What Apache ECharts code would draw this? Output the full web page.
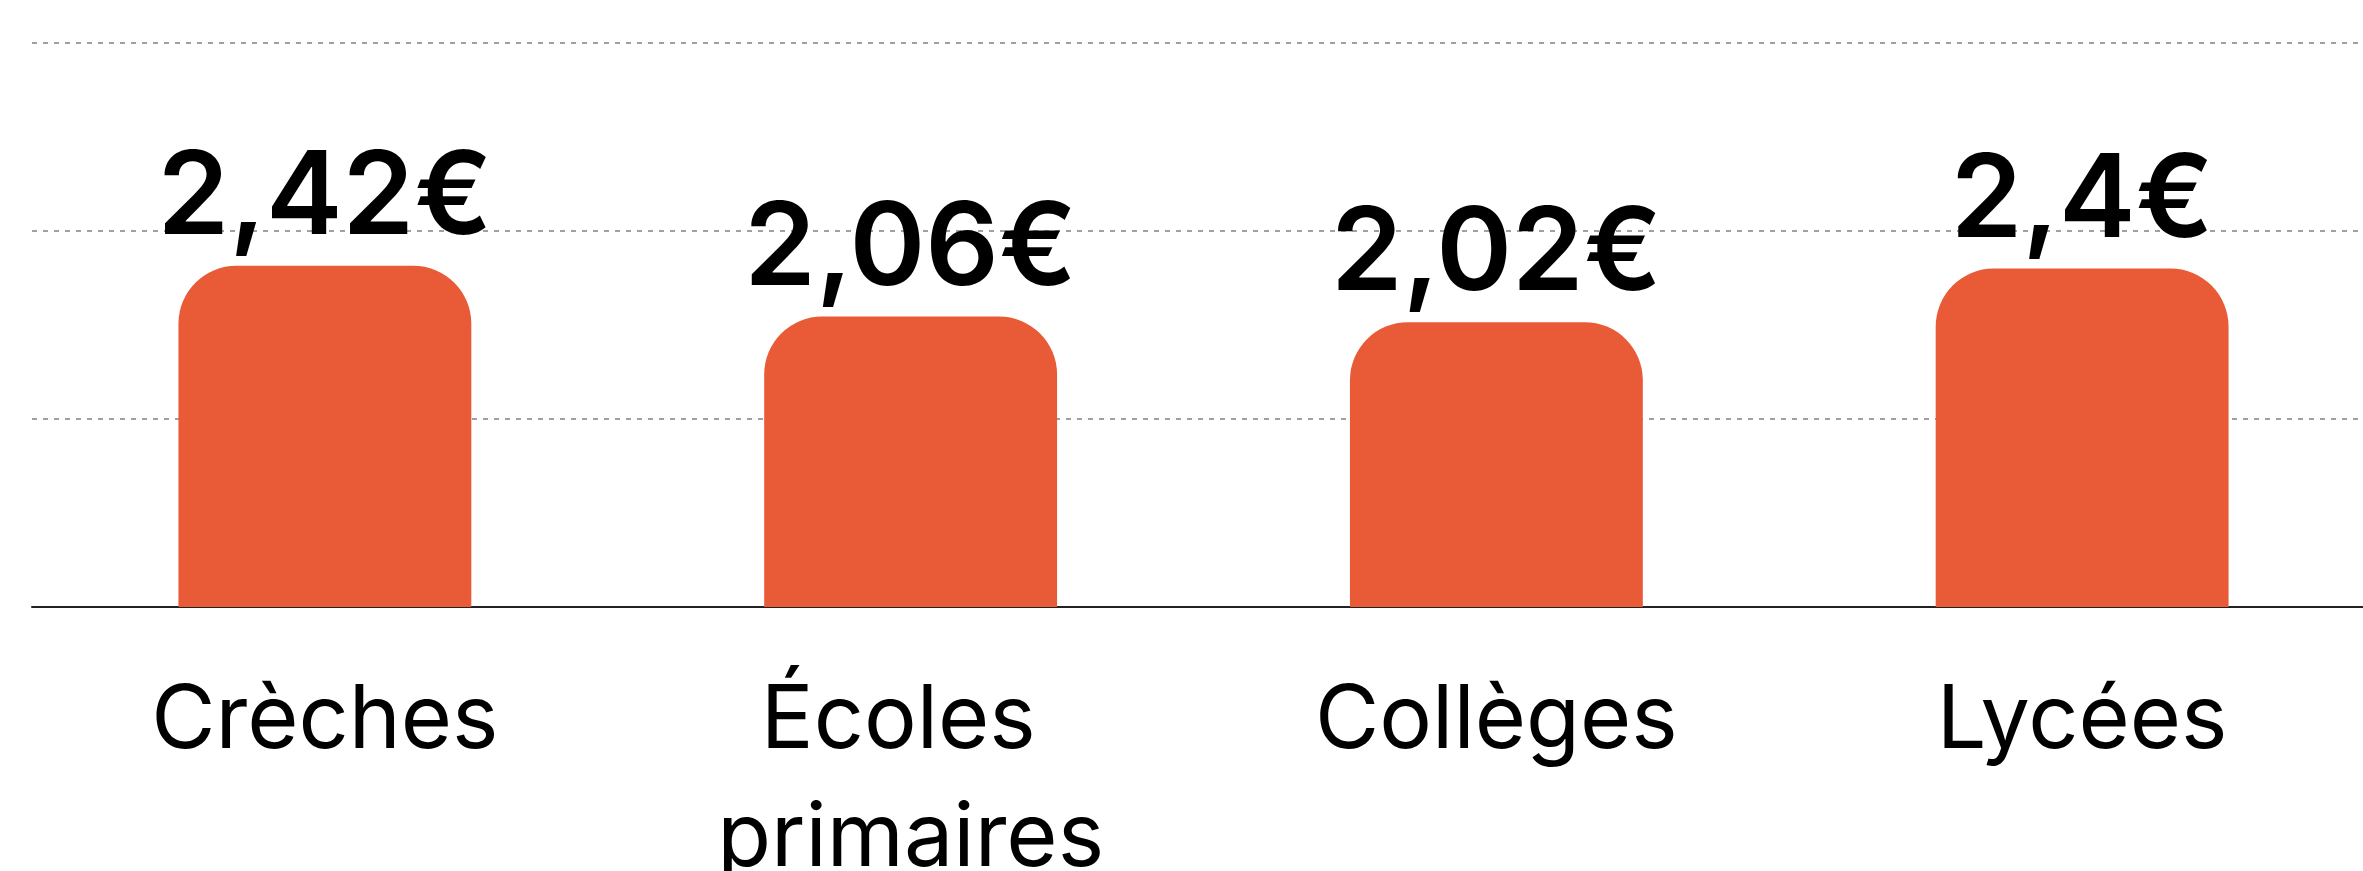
<!DOCTYPE html>
<html>
<head>
<meta charset="utf-8">
<style>
  html, body { margin: 0; padding: 0; background: #fff; }
  #chart { width: 2363px; height: 871px; }
</style>
<script src="https://cdn.jsdelivr.net/npm/echarts@6/dist/echarts.min.js"></script>
</head>
<body>
<div id="chart"></div>
<script>
// prix moyen d'un repas par niveau
var categories = ['Crèches', 'Écoles primaires', 'Collèges', 'Lycées'];
var values = [2.42, 2.06, 2.02, 2.4];
var yTicks = [0, 4 / 3, 8 / 3, 4];

var myChart = echarts.init(document.getElementById('chart'));

var option = {
    animation: false,
    grid: { left: 32, right: -12, top: 43, bottom: 264, containLabel: false, outerBoundsMode: 'none' },
    xAxis: {
        type: 'category',
        data: categories,
        axisLine: { show: true, lineStyle: { color: '#222', width: 2 } },
        axisTick: { show: false },
        axisLabel: {
            interval: 0,
            margin: 56,
            color: '#000',
            fontFamily: 'Inter',
            fontSize: 88,
            lineHeight: 118,
            width: 450,
            overflow: 'break'
        }
    },
    yAxis: {
        type: 'value',
        min: yTicks[0],
        max: yTicks[yTicks.length - 1],
        interval: yTicks[1] - yTicks[0],
        axisLine: { show: false },
        axisTick: { show: false },
        axisLabel: { show: false },
        splitLine: {
            show: true,
            lineStyle: { color: '#a0a0a0', width: 2, type: [5, 6] }
        }
    },
    series: [
        {
            type: 'bar',
            data: values,
            barWidth: '50%',
            itemStyle: { color: '#e85b36', borderRadius: [58, 58, 0, 0] },
            label: {
                show: true,
                position: 'top',
                distance: 9,
                color: '#000',
                fontFamily: 'Inter',
                fontWeight: 600,
                fontSize: 115,
                lineHeight: 115,
                formatter: function (p) {
                    return String(p.value).replace('.', ',') + '€';
                }
            }
        }
    ]
};
myChart.setOption(option);
</script>
</body>
</html>
